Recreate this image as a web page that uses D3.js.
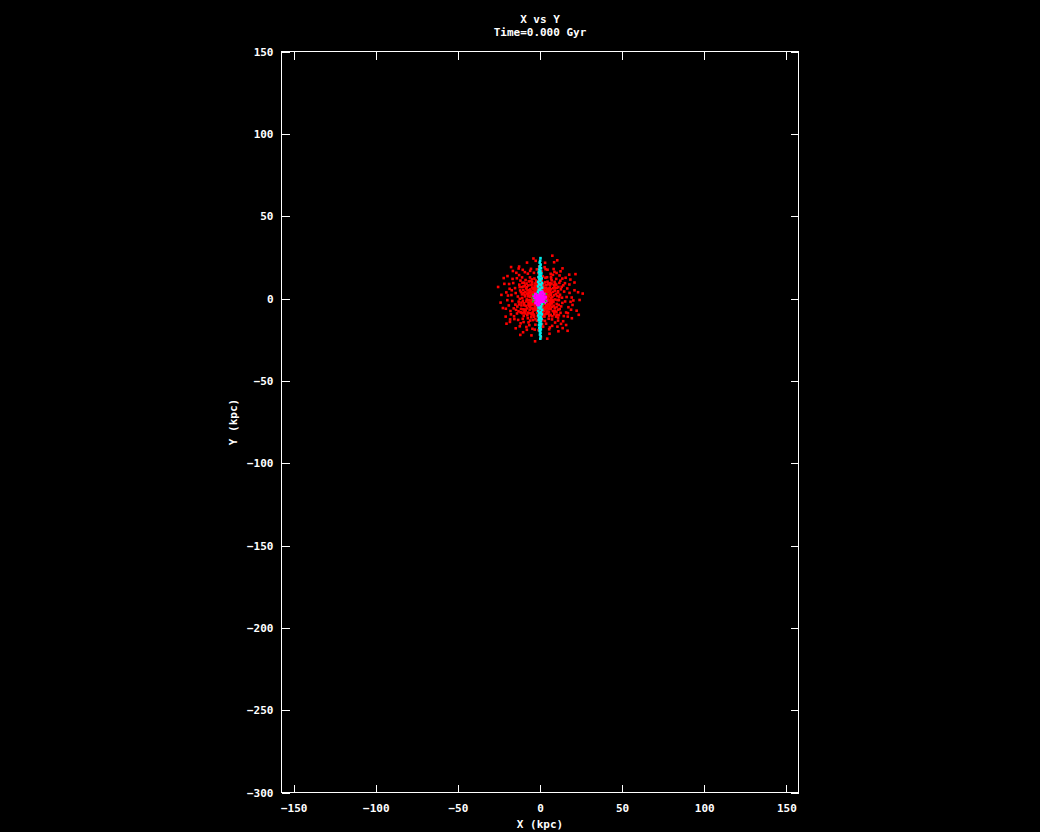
<!DOCTYPE html>
<html><head><meta charset="utf-8">
<script src="https://cdn.jsdelivr.net/npm/d3@7"></script>
<style>
html,body{margin:0;padding:0;background:#000;}
svg{display:block;}
text{font-family:"DejaVu Sans Mono",monospace;font-weight:bold;fill:#fff;}
</style></head>
<body>
<svg id="c" width="1040" height="832"></svg>
<script>
// ---- data (kpc) ----
const titleLines = ["X vs Y", "Time=0.000 Gyr"];
const xLabel = "X (kpc)";
const yLabel = "Y (kpc)";
const xTicks = [-150, -100, -50, 0, 50, 100, 150];
const yTicks = [150, 100, 50, 0, -50, -100, -150, -200, -250, -300];
const xDomain = [-157.4, 157.4];
const yDomain = [-300, 150];

// red particles (disk / halo)
const redPts = [
[-7.2,1.3],[-6.5,-3.1],[-5.8,4.6],[-5.1,-6.0],[-4.7,0.4],[-4.3,2.9],[-3.9,-1.8],[-3.5,5.9],[-3.1,-4.4],[-2.8,7.1],[-2.4,-7.0],[-2.0,1.1],[-1.7,-2.6],[-1.3,3.8],[-0.9,-5.3],[-0.5,6.5],[0.4,-6.7],[0.8,4.9],[1.2,-3.4],[1.6,2.2],[2.1,-0.9],[2.5,6.3],[2.9,-5.6],[3.3,3.5],[3.7,-2.0],[4.1,0.8],[4.6,-4.7],[5.0,5.1],[5.4,-1.3],[5.9,2.7],[6.3,-3.9],[6.8,0.2],[7.3,-1.6],[-7.6,-0.9],[-6.9,3.4],[-6.2,-5.2],[-5.5,1.9],[-4.9,-2.7],[-4.0,6.3],[-3.3,-5.8],[-2.6,3.2],[-1.9,-0.3],[-1.1,7.4],[-0.3,-3.9],[0.6,2.0],[1.4,-7.3],[2.3,5.0],[3.0,-3.0],[3.8,6.5],[4.4,-6.1],[5.2,3.8],[5.8,-5.0],[6.6,2.1],[7.1,-3.0],
[-7.0,-2.5],[-6.0,0.9],[-5.3,-4.1],[-4.5,4.2],[-3.7,-0.5],[-3.0,2.2],[-2.2,-3.7],[-1.5,5.2],[-0.7,-1.3],[0.2,6.9],[1.0,-5.0],[1.8,0.5],[2.7,-2.4],[3.5,4.3],[4.2,-5.4],[4.9,-0.2],[5.6,1.2],[6.1,4.5],[6.9,-2.2],[-7.4,2.6],[-6.7,-4.3],[-5.9,5.5],[-5.0,-0.9],[-4.2,-6.4],[-3.4,0.9],[-2.5,5.6],[-1.6,-5.9],[-0.8,2.6],[0.0,-2.1],[0.9,7.0],[1.7,-1.6],[2.4,3.3],[3.2,-6.6],[4.0,2.4],[4.8,-3.3],[5.5,6.0],[6.4,-0.8],[7.5,0.9],[-6.4,-1.1],[-5.6,-2.0],[-4.8,6.7],[-4.1,-3.6],[-3.2,4.8],[-2.3,-1.2],[-1.4,0.2],[-0.6,-7.6],[0.3,4.0],[1.1,1.3],[1.9,-4.3],[2.8,1.6],[3.6,-4.9],[4.5,5.8],[5.3,-6.3],[6.0,-2.9],[-5.2,3.1],[-3.8,-7.1],[-2.9,-2.8],[-1.2,-4.6],[2.0,-6.0],[3.4,0.1],[4.3,3.9],[-6.6,5.0],[6.5,5.6],
[-10.8,0.3],[-10.2,5.1],[-9.6,-4.1],[-9.1,7.9],[-8.7,-7.3],[-8.1,-0.6],[-7.6,4.9],[-7.3,-8.6],[-6.7,1.8],[-6.3,-6.8],[-5.7,8.3],[-5.4,-2.9],[-4.8,9.9],[-4.4,-8.2],[-3.8,3.6],[-3.6,-10.3],[-3.2,7.6],[-2.7,-6.2],[-2.2,10.4],[-1.8,-8.9],[-1.2,5.9],[-0.9,-10.9],[-0.4,9.2],[0.5,-9.7],[1.0,10.8],[1.5,-8.6],[2.1,7.4],[2.6,-7.7],[3.1,9.8],[3.5,-9.4],[4.0,5.4],[4.5,-7.8],[5.0,8.6],[5.5,-8.1],[6.0,6.6],[6.5,-6.4],[7.0,9.1],[7.4,-5.1],[7.9,4.0],[8.3,-4.4],[8.8,6.9],[9.3,-7.5],[9.7,2.8],[10.1,-5.2],[10.6,-0.9],[11.0,3.7],[11.4,-3.9],[-11.3,-2.5],[-10.9,6.9],[-10.3,-6.6],[-9.4,2.2],[-8.9,-9.1],[-8.0,6.8],[-7.0,-4.0],[-6.1,3.9],[-5.1,-9.8],[-4.2,6.0],[-3.3,-2.1],[-2.0,8.3],[-1.4,-7.1],[-0.2,-5.9],[0.6,5.5],[1.9,-10.6],[2.9,4.6],[3.9,-4.0],[4.8,1.9],[5.7,-3.6],[6.7,3.3],[7.7,-1.0],[8.5,-8.0],[9.0,4.8],[9.9,8.4],[-9.8,9.6],[-11.6,3.9],[11.7,0.8],[10.4,6.5],[-10.6,-9.0],[0.0,11.8],[-0.6,3.1],[1.3,-2.2],
[-13.5,1.2],[-12.8,-3.6],[-12.1,4.9],[-11.6,-6.3],[-11.0,2.5],[-10.4,-1.4],[-10.0,7.3],[-9.5,-8.0],[-9.0,4.0],[-8.6,-4.5],[-8.2,9.1],[-7.7,-10.2],[-7.1,7.9],[-6.5,-8.8],[-5.9,10.6],[-5.3,-11.4],[-4.7,8.5],[-4.0,-9.6],[-3.4,12.1],[-2.8,-12.6],[-2.1,9.8],[-1.5,-10.8],[-0.8,13.0],[0.0,-9.0],[0.7,11.5],[1.4,-13.2],[2.0,8.7],[2.7,-11.0],[3.3,12.6],[4.0,-8.5],[4.6,10.2],[5.3,-12.3],[5.9,9.3],[6.5,-9.9],[7.1,11.0],[7.8,-7.6],[8.4,8.3],[9.0,-5.9],[9.6,6.4],[10.2,-3.3],[10.9,4.4],[11.5,-1.0],[12.2,2.3],[12.9,-4.8],[13.4,0.5],[-13.0,-1.9],[-12.4,6.9],[-11.8,-8.3],[-10.7,9.5],[-9.9,-10.6],[-8.8,11.2],[-7.4,-12.0],[-6.1,12.8],[-4.3,-13.1],[-2.4,10.9],[-1.0,-8.4],[1.1,9.4],[2.5,-9.8],[3.8,8.2],[5.1,-9.2],[6.2,8.1],[7.5,-10.8],[8.9,10.1],[10.0,-8.2],[11.2,7.0],[12.0,-6.4],[12.7,5.6],[13.6,-2.7],[-13.8,-4.9],[-12.3,-0.2],[-11.3,-4.2],[-10.1,3.2],[-9.3,-6.7],[-8.4,6.1],[-7.9,-6.0],[-6.8,10.4],[-5.6,-9.0],[-4.9,11.6],[-3.6,-11.1],[-3.0,9.1],[-1.8,-13.5],[-0.4,10.3],[0.9,-11.8],[1.7,13.4],[3.0,-13.6],[4.3,12.9],[5.6,-10.6],[6.8,12.1],[7.3,-12.7],[8.1,6.2],[8.7,-9.6],[9.3,8.9],[9.8,-11.0],[10.6,1.5],[11.1,-6.8],[11.8,9.5],[12.5,-8.7],[13.2,7.1],[-11.9,10.9],[-10.5,-12.3],[-9.0,1.3],[-8.3,-1.8],[-8.0,3.0],[8.2,-2.2],[8.6,1.9],[9.2,-0.6],[-12.6,8.4],[-13.1,-7.8],[12.4,10.8],[11.0,-11.6],[-6.0,-13.4],[6.7,13.2],[-0.1,-12.4],[0.4,8.3],[-9.7,-2.9],[10.3,-9.9],[9.9,11.9],
[-19.5,1.8],[-19.0,-4.2],[-18.5,5.9],[-18.0,-7.6],[-17.4,2.1],[-16.9,-1.5],[-16.3,9.4],[-15.8,-10.8],[-15.2,6.3],[-14.6,-6.9],[-14.1,12.3],[-13.3,-13.0],[-12.7,14.2],[-11.8,-15.1],[-10.9,12.8],[-10.0,-14.3],[-9.2,16.0],[-8.3,-17.3],[-7.4,15.1],[-6.5,-16.2],[-5.5,18.0],[-4.6,-18.4],[-3.7,15.6],[-2.8,-15.9],[-1.9,17.7],[-0.9,-19.2],[0.9,16.4],[1.9,-17.1],[2.8,19.0],[3.7,-15.3],[4.6,17.5],[5.6,-18.7],[6.5,15.0],[7.4,-16.6],[8.3,17.9],[9.2,-14.6],[10.1,15.5],[11.0,-13.4],[11.9,14.0],[12.8,-15.4],[13.6,12.1],[14.5,-10.7],[15.2,9.3],[15.9,-8.5],[16.6,6.1],[17.3,-5.3],[18.0,3.4],[18.6,-2.0],[19.3,0.6],[19.8,-3.9],[-19.9,-1.0],[-18.8,8.8],[-17.7,-9.6],[-16.7,11.9],[-15.6,-12.5],[-14.4,15.6],[-12.3,-16.9],[-10.5,17.4],[-8.0,-19.0],[-6.0,16.8],[-3.2,-18.9],[-1.0,15.4],[1.3,-15.7],[3.4,17.8],[6.0,-17.6],[8.8,16.2],[10.6,-17.1],[12.5,16.5],[14.1,-13.8],[15.6,12.6],[16.9,-11.0],[17.9,8.5],[18.9,-6.8],[-17.2,5.0],[-15.0,-3.7],[-14.8,3.3],[15.3,-1.8],[14.7,4.2],[16.2,0.9],[-16.0,-6.0],[-14.0,-9.1],[14.2,8.0],[17.0,-8.9],[-18.2,-12.7],[18.5,11.5],[-13.0,18.2],[13.8,-18.0],[0.2,-18.0],[-0.5,19.5],[-7.0,-14.5],[7.9,14.4],[-11.2,-8.6],[11.5,-10.1],[-20.5,3.7],[20.3,-1.2],[-20.8,-6.2],[21.0,5.0],
[-23.5,2.2],[-22.6,-5.8],[-21.7,8.9],[-20.9,-11.0],[-19.8,13.6],[-18.3,-14.2],[-16.5,16.7],[-14.8,-18.1],[-12.7,19.4],[-10.3,-20.5],[-7.9,21.8],[-5.2,-22.4],[-2.6,22.9],[0.6,-23.6],[3.1,21.7],[5.8,-21.4],[8.6,22.0],[11.2,-19.9],[13.7,18.3],[15.9,-16.1],[17.8,14.5],[19.4,-12.0],[21.0,9.7],[22.3,-7.4],[23.2,3.8],[24.1,-0.9],[-24.0,-2.5],[-22.1,12.4],[-20.4,-15.3],[-17.6,19.1],[-12.0,-22.1],[-4.0,24.3],[4.4,-24.4],[10.5,23.2],[16.8,-19.6],[21.6,14.8],[23.6,-9.9],[-25.5,7.0],[26.0,3.0],[-3.0,-26.0],[7.5,26.0]
];

// cyan particles (edge-on thin component)
const cyanPts = [
[0.3,24.5],[0.1,23.0],[-0.2,21.8],[0.4,20.6],[-0.1,19.5],[0.6,18.4],[-0.5,17.6],[0.2,16.8],[-0.7,16.0],[0.8,15.2],[-0.3,14.5],[0.5,13.7],[-0.9,13.0],[1.0,12.2],[-0.4,11.6],[0.3,10.9],[-1.1,10.1],[1.2,9.4],[-0.6,8.8],[0.7,8.0],[-1.2,7.3],[1.3,6.6],[0.0,6.0],[-0.8,5.3],[0.9,4.6],[-1.3,3.9],[1.4,3.2],[-0.2,2.5],
[-0.3,-2.6],[1.2,-3.3],[-1.4,-4.0],[0.7,-4.8],[-0.9,-5.5],[0.2,-6.1],[1.3,-6.8],[-1.1,-7.5],[0.6,-8.2],[-0.5,-8.9],[1.1,-9.6],[-1.0,-10.3],[0.4,-11.0],[-0.6,-11.7],[0.9,-12.4],[-0.8,-13.1],[0.5,-13.9],[-0.3,-14.6],[0.7,-15.4],[-0.6,-16.2],[0.3,-17.0],[-0.4,-17.9],[0.5,-18.8],[-0.2,-19.8],[0.3,-20.8],[0.0,-21.9],[0.4,-23.0],[0.2,-24.4],
[-0.1,12.0],[0.1,8.5],[-0.2,5.0],[0.1,-5.0],[-0.1,-9.0],[0.2,-12.0],[0.4,-1.2],[-0.5,1.4],[0.0,15.8],[0.1,-15.8],[-0.1,19.0],[0.0,-19.2]
];

// magenta particles (bulge)
const magentaPts = [
[0,0],[-2.5,0.5],[2.4,-0.4],[0.3,2.6],[-0.4,-2.5],[-1.6,1.8],[1.7,1.6],[-1.8,-1.7],[1.5,-1.9],[-3.5,-0.6],[3.4,0.8],[0.6,3.6],[-0.8,-3.7],[-2.7,2.6],[2.6,2.7],[-2.6,-2.7],[2.8,-2.5],[-1.0,0.9],[1.0,-1.0],[0.9,1.1],[-1.1,-0.8],[-3.8,1.4],[3.7,-1.5],[1.4,3.9],[-1.3,-3.9],[0.0,-1.5],[0.0,1.5],[-1.5,0],[1.5,0]
];

// green particles
const greenPts = [
[-4.6,0.4],[-4.2,2.4],[3.9,2.8],[3.5,-1.6],[2.3,-3.2],[-3.8,-0.8],[-4.4,-1.9]
];

// ---- drawing ----
const svg = d3.select("#c");
const L = 281.5, R = 798.5, T = 51.5, B = 792.5;
const x = d3.scaleLinear().domain(xDomain).range([L, R]);
const y = d3.scaleLinear().domain(yDomain).range([B, T]);

svg.append("rect").attr("width",1040).attr("height",832).attr("fill","#000");

const plot = svg.append("g");
function dots(pts, color, s){
  plot.append("g").selectAll("rect").data(pts).join("rect")
    .attr("x", d => x(d[0]) - s/2)
    .attr("y", d => y(d[1]) - s/2)
    .attr("width", s).attr("height", s)
    .attr("fill", color);
}
dots(redPts, "#ff0000", 2.6);
dots(cyanPts, "#00eeee", 2.6);
dots(magentaPts, "#ff00ff", 3);
dots(greenPts, "#00dd00", 1.6);

// axes
function styleAxis(g){
  g.select(".domain").remove();
  g.selectAll(".tick line").attr("stroke","#fff").attr("stroke-width",1).attr("shape-rendering","crispEdges");
  g.selectAll(".tick text").attr("fill","#fff").attr("font-size",11).attr("font-family","DejaVu Sans Mono, monospace").attr("font-weight","bold");
}
svg.append("g").attr("transform",`translate(0,${B})`)
  .call(d3.axisBottom(x).tickValues(xTicks).tickSize(-8).tickPadding(12).tickFormat(d3.format("d")))
  .call(styleAxis);
svg.append("g").attr("transform",`translate(0,${T})`)
  .call(d3.axisTop(x).tickValues(xTicks).tickSize(-8).tickFormat(""))
  .call(styleAxis);
svg.append("g").attr("transform",`translate(${L},0)`)
  .call(d3.axisLeft(y).tickValues(yTicks).tickSize(-8).tickPadding(8).tickFormat(d3.format("d")))
  .call(styleAxis);
svg.append("g").attr("transform",`translate(${R},0)`)
  .call(d3.axisRight(y).tickValues(yTicks).tickSize(-8).tickFormat(""))
  .call(styleAxis);

svg.append("rect").attr("x",L).attr("y",T).attr("width",R-L).attr("height",B-T)
  .attr("fill","none").attr("stroke","#fff").attr("stroke-width",1).attr("shape-rendering","crispEdges");

// titles
svg.selectAll(".ttl").data(titleLines).join("text")
  .attr("x",540).attr("y",(d,i)=>23 + i*13).attr("text-anchor","middle").attr("font-size",11).text(d=>d);
svg.append("text").attr("x",540).attr("y",828).attr("text-anchor","middle").attr("font-size",11).text(xLabel);
svg.append("text").attr("transform","translate(237,422) rotate(-90)").attr("text-anchor","middle").attr("font-size",11).text(yLabel);
</script>
</body></html>
